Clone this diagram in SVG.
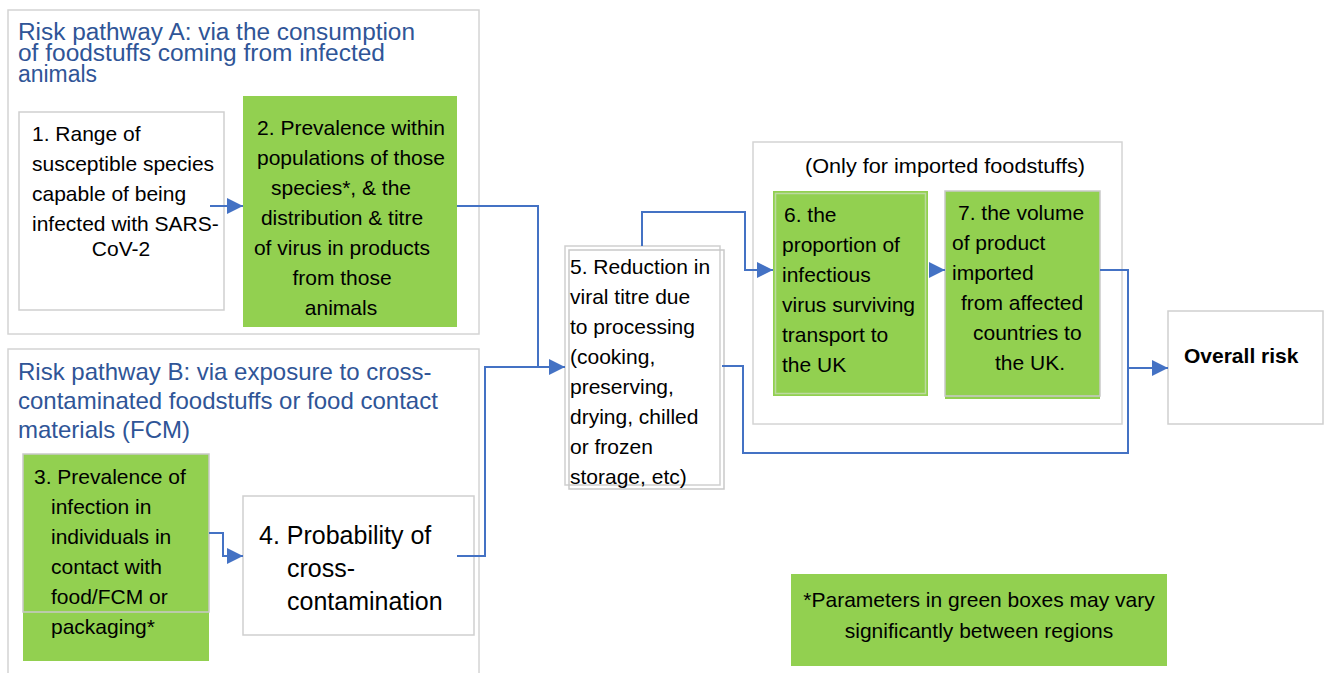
<svg xmlns="http://www.w3.org/2000/svg" width="1324" height="673" viewBox="0 0 1324 673">
<defs>
<style>
.frame{fill:#fff;stroke:#d4d4d4;stroke-width:1.5}
.wbox{fill:#fff;stroke:#cfcfcf;stroke-width:1.5}
.gbox{fill:#92d050}
.gline{fill:none;stroke:#c9c9c9;stroke-width:1.5}
.title{font-family:"Liberation Sans",Arial,sans-serif;font-size:24px;fill:#2f5597}
.titleA{font-family:"Liberation Sans",Arial,sans-serif;font-size:23px;fill:#2f5597}
.t{font-family:"Liberation Sans",Arial,sans-serif;font-size:21px;fill:#000}
.tb{font-family:"Liberation Sans",Arial,sans-serif;font-size:21px;font-weight:bold;fill:#000}
.t4{font-family:"Liberation Sans",Arial,sans-serif;font-size:25px;fill:#000}
.c{text-anchor:middle}
.conn{fill:none;stroke:#4472c4;stroke-width:2}
</style>
<marker id="ah" viewBox="0 0 16 16" refX="16" refY="8" markerWidth="16" markerHeight="16" markerUnits="userSpaceOnUse" orient="auto">
<path d="M0,0 L16,8 L0,16 z" fill="#4472c4"/>
</marker>
</defs>
<rect width="1324" height="673" fill="#fff"/>

<g id="pathwayA">
<rect class="frame" x="8" y="10" width="471" height="324"/>
<text class="titleA" x="18" y="40" textLength="397" lengthAdjust="spacingAndGlyphs">Risk pathway A: via the consumption</text>
<text class="titleA" x="18" y="61" textLength="367" lengthAdjust="spacingAndGlyphs">of foodstuffs coming from infected</text>
<text class="titleA" x="18" y="82" textLength="79" lengthAdjust="spacingAndGlyphs">animals</text>
</g>

<g id="pathwayB">
<rect class="frame" x="8" y="349" width="471" height="340"/>
<text class="title" x="18" y="380">Risk pathway B: via exposure to cross-</text>
<text class="title" x="18" y="409">contaminated foodstuffs or food contact</text>
<text class="title" x="18" y="438">materials (FCM)</text>
</g>

<g id="imported">
<rect class="frame" x="753" y="142" width="369" height="282"/>
<text class="t c" x="945" y="173" textLength="280" lengthAdjust="spacingAndGlyphs">(Only for imported foodstuffs)</text>
</g>

<g id="node1">
<rect class="wbox" x="19" y="112" width="205" height="198"/>
<text class="t" x="32" y="141">1. Range of</text>
<text class="t" x="32" y="171">susceptible species</text>
<text class="t" x="32" y="201">capable of being</text>
<text class="t" x="32" y="231">infected with SARS-</text>
<text class="t c" x="121" y="256">CoV-2</text>
</g>

<g id="node2">
<rect class="gbox" x="243" y="96" width="214" height="231"/>
<text class="t c" x="351" y="135">2. Prevalence within</text>
<text class="t c" x="351" y="165">populations of those</text>
<text class="t c" x="341" y="195">species*, &amp; the</text>
<text class="t c" x="342" y="225">distribution &amp; titre</text>
<text class="t c" x="342" y="255">of virus in products</text>
<text class="t c" x="342" y="285">from those</text>
<text class="t c" x="341" y="315">animals</text>
</g>

<g id="node3">
<rect class="gbox" x="23" y="454" width="186" height="207"/>
<rect class="gline" x="23" y="454" width="186" height="158"/>
<text class="t" x="34" y="484">3. Prevalence of</text>
<text class="t" x="51" y="514">infection in</text>
<text class="t" x="51" y="544">individuals in</text>
<text class="t" x="51" y="574">contact with</text>
<text class="t" x="51" y="604">food/FCM or</text>
<text class="t" x="51" y="634">packaging*</text>
</g>

<g id="node4">
<rect class="wbox" x="243" y="496" width="231" height="139"/>
<text class="t4" x="259" y="544">4. Probability of</text>
<text class="t4" x="287" y="577">cross-</text>
<text class="t4" x="287" y="610">contamination</text>
</g>

<g id="node5">
<rect class="wbox" x="565" y="246" width="155" height="239"/>
<rect class="gline" x="569" y="250" width="155" height="239"/>
<text class="t" x="570" y="274">5. Reduction in</text>
<text class="t" x="570" y="304">viral titre due</text>
<text class="t" x="570" y="334">to processing</text>
<text class="t" x="570" y="364">(cooking,</text>
<text class="t" x="570" y="394">preserving,</text>
<text class="t" x="570" y="424">drying, chilled</text>
<text class="t" x="570" y="454">or frozen</text>
<text class="t" x="570" y="484">storage, etc)</text>
</g>

<g id="node6">
<rect class="gbox" x="773" y="191" width="155" height="205"/>
<rect fill="none" stroke="#bcd9a0" stroke-width="1.5" x="775.5" y="193.5" width="150" height="200"/>
<text class="t" x="784" y="222">6. the</text>
<text class="t" x="782" y="252">proportion of</text>
<text class="t" x="782" y="282">infectious</text>
<text class="t" x="782" y="312">virus surviving</text>
<text class="t" x="782" y="342">transport to</text>
<text class="t" x="782" y="372">the UK</text>
</g>

<g id="node7">
<rect class="gbox" x="945" y="191" width="155" height="208"/>
<rect class="gline" x="945" y="191" width="155" height="205"/>
<text class="t" x="958" y="220">7. the volume</text>
<text class="t" x="952" y="250">of product</text>
<text class="t" x="952" y="280">imported</text>
<text class="t" x="961" y="310">from affected</text>
<text class="t" x="973" y="340">countries to</text>
<text class="t" x="995" y="370">the UK.</text>
</g>

<g id="overall">
<rect class="wbox" x="1168" y="311" width="155" height="113"/>
<text class="tb" x="1184" y="363">Overall risk</text>
</g>

<g id="legend">
<rect class="gbox" x="791" y="574" width="376" height="92"/>
<text class="t c" x="979" y="607">*Parameters in green boxes may vary</text>
<text class="t c" x="979" y="638">significantly between regions</text>
</g>

<g id="connectors">
<path class="conn" d="M210,206 L243,206" marker-end="url(#ah)"/>
<path class="conn" d="M457,206 L538,206 L538,367 L565,367" marker-end="url(#ah)"/>
<path class="conn" d="M209,533 L223,533 L223,556 L243,556" marker-end="url(#ah)"/>
<path class="conn" d="M457,556 L485,556 L485,367 L552,367"/>
<path class="conn" d="M642,246 L642,212 L745,212 L745,270 L773,270" marker-end="url(#ah)"/>
<path class="conn" d="M929,270 L945,270" marker-end="url(#ah)"/>
<path class="conn" d="M1100,270 L1128,270 L1128,453 L743,453 L743,366 L722,366"/>
<path class="conn" d="M1128,368 L1168,368" marker-end="url(#ah)"/>
</g>
</svg>
